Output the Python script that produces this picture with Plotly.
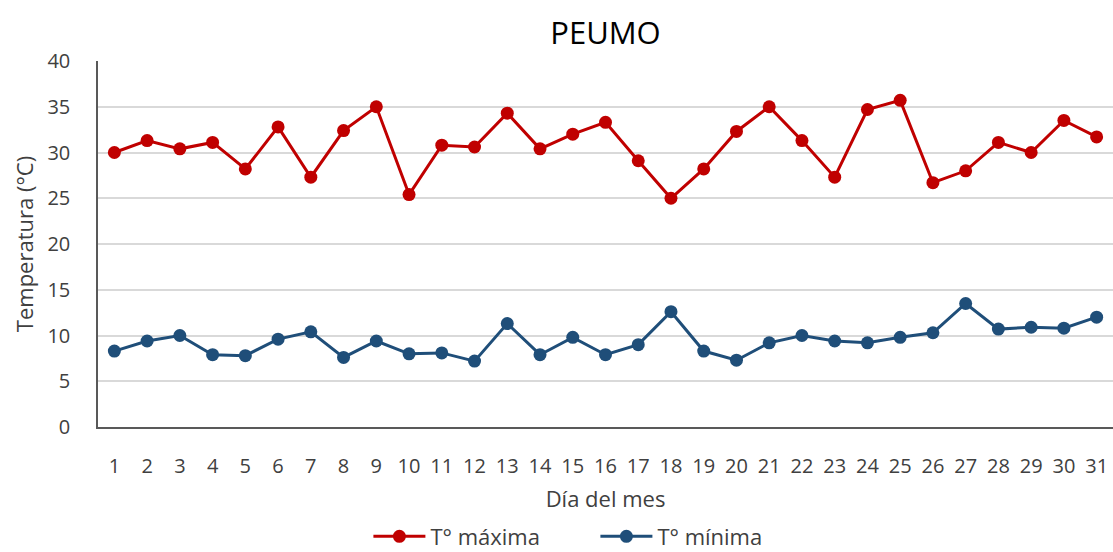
import plotly.graph_objects as go

dias = list(range(1, 32))
t_max = [30.0, 31.3, 30.4, 31.1, 28.2, 32.8, 27.3, 32.4, 35.0, 25.4,
         30.8, 30.6, 34.3, 30.4, 32.0, 33.3, 29.1, 25.0, 28.2, 32.3,
         35.0, 31.3, 27.3, 34.7, 35.7, 26.7, 28.0, 31.1, 30.0, 33.5, 31.7]
t_min = [8.3, 9.4, 10.0, 7.9, 7.8, 9.6, 10.4, 7.6, 9.4, 8.0,
         8.1, 7.2, 11.3, 7.9, 9.8, 7.9, 9.0, 12.6, 8.3, 7.3,
         9.2, 10.0, 9.4, 9.2, 9.8, 10.3, 13.5, 10.7, 10.9, 10.8, 12.0]

FONT = "Open Sans"
TXT = "#404040"
fig = go.Figure()
fig.add_trace(go.Scatter(x=dias, y=t_max, mode="lines+markers", name="T° máxima",
                         line=dict(color="#C00000", width=3),
                         marker=dict(color="#C00000", size=13)))
fig.add_trace(go.Scatter(x=dias, y=t_min, mode="lines+markers", name="T° mínima",
                         line=dict(color="#1F4E79", width=3),
                         marker=dict(color="#1F4E79", size=13)))

fig.update_layout(
    width=1113, height=552,
    margin=dict(l=98, r=0, t=61, b=125, autoexpand=False),
    paper_bgcolor="white", plot_bgcolor="white",
    font=dict(family=FONT, size=20, color=TXT),
    title=dict(text="PEUMO", x=0.5, xref="paper", y=0.94, yref="container",
               yanchor="middle",
               font=dict(family=FONT, size=31, color="#000000")),
    showlegend=True,
    legend=dict(orientation="h", x=0.331, xanchor="left", xref="container",
                y=0.028, yanchor="middle", yref="container",
                font=dict(family=FONT, size=22, color=TXT),
                itemwidth=52, entrywidth=160),
    xaxis=dict(range=[0.5, 31.5], tickmode="array", tickvals=dias,
               ticktext=[str(d) for d in dias], showgrid=False,
               showline=True, linecolor="#595959", linewidth=1.5,
               ticklabelstandoff=20, tickfont=dict(size=20, color=TXT),
               title=dict(text="Día del mes", standoff=14,
                          font=dict(size=22, color=TXT)),
               zeroline=False, fixedrange=True, automargin=False),
    yaxis=dict(range=[0, 40], tickmode="array", tickvals=list(range(0, 45, 5)),
               showgrid=True, gridcolor="#D9D9D9", gridwidth=1.5,
               showline=True, linecolor="#595959", linewidth=1.5,
               ticklabelstandoff=22, tickfont=dict(size=20, color=TXT),
               title=dict(text="Temperatura (°C)", standoff=8,
                          font=dict(size=22, color=TXT)),
               zeroline=False, fixedrange=True, automargin=False),
)
fig.write_html("out.html", config={"displayModeBar": False},
               post_script="document.body.style.margin='0';")
